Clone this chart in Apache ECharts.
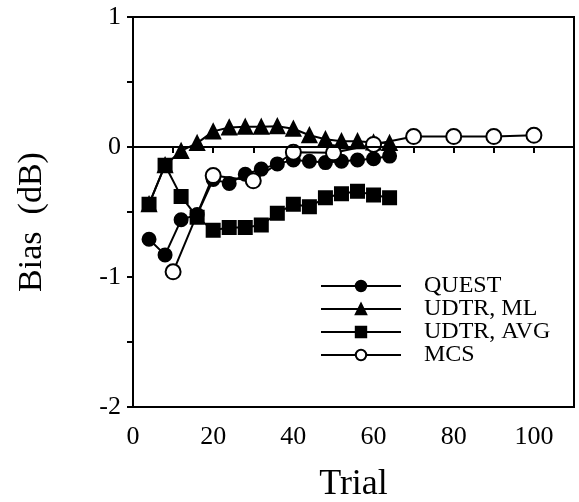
<!DOCTYPE html>
<html>
<head>
<meta charset="utf-8">
<script src="https://cdn.jsdelivr.net/npm/echarts@6/dist/echarts.min.js"></script>
<style>
  html, body { margin: 0; padding: 0; background: #fff; }
  #chart { width: 579px; height: 502px; }
</style>
</head>
<body>
<div id="chart"></div>
<script>
// trials and bias values (dB)
const udtrTrials = [4, 8, 12, 16, 20, 24, 28, 32, 36, 40, 44, 48, 52, 56, 60, 64]
const questBias = [-0.71, -0.83, -0.56, -0.52, -0.25, -0.28, -0.21, -0.17, -0.13, -0.10, -0.11, -0.12, -0.11, -0.10, -0.09, -0.07]
const udtrMlBias = [-0.44, -0.14, -0.03, 0.03, 0.12, 0.15, 0.155, 0.155, 0.16, 0.14, 0.09, 0.06, 0.045, 0.045, 0.035, 0.03]
const udtrAvgBias = [-0.44, -0.14, -0.38, -0.54, -0.64, -0.62, -0.62, -0.60, -0.51, -0.44, -0.46, -0.39, -0.36, -0.34, -0.37, -0.39]
const mcsTrials = [10, 20, 30, 40, 50, 60, 70, 80, 90, 100]
const mcsBias = [-0.96, -0.22, -0.26, -0.04, -0.045, 0.02, 0.08, 0.08, 0.08, 0.09]

const pairs = (xs, ys) => xs.map((x, i) => [x, ys[i]])
const serif = 'Liberation Serif'

const chart = echarts.init(document.getElementById('chart'))

const lineSeries = (name, xs, ys, symbol, size, fill) => ({
  name: name,
  type: 'line',
  data: pairs(xs, ys),
  symbol: symbol,
  symbolSize: size,
  showSymbol: true,
  lineStyle: { color: '#000', width: 2 },
  itemStyle: { color: fill, borderColor: '#000', borderWidth: 2 }
})

chart.setOption({
  animation: false,
  grid: {
    left: 133, right: 5, top: 17, bottom: 95,
    outerBoundsMode: 'none',
    show: true, borderColor: '#000', borderWidth: 2
  },
  legend: {
    orient: 'vertical',
    left: 315,
    top: 269,
    itemWidth: 80,
    itemHeight: 13,
    itemGap: -1,
    data: ['QUEST', 'UDTR, ML', 'UDTR, AVG', 'MCS'],
    textStyle: { fontFamily: serif, fontSize: 24, color: '#000', padding: [0, 0, 0, 18] }
  },
  xAxis: {
    type: 'value',
    min: 0,
    max: 110,
    interval: 10,
    name: 'Trial',
    nameLocation: 'middle',
    nameGap: 60,
    nameTextStyle: { fontFamily: serif, fontSize: 36, color: '#000' },
    axisLine: { lineStyle: { color: '#000', width: 2 } },
    axisTick: { length: 6, lineStyle: { color: '#000', width: 2 } },
    axisLabel: {
      fontFamily: serif, fontSize: 26, color: '#000', margin: 17,
      formatter: v => (v % 20 === 0 ? String(v) : '')
    },
    splitLine: { show: false }
  },
  yAxis: {
    type: 'value',
    min: -2,
    max: 1,
    interval: 1,
    name: 'Bias  (dB)',
    nameLocation: 'middle',
    nameGap: 84,
    nameTextStyle: { fontFamily: serif, fontSize: 34, color: '#000', padding: [0, 20, 0, 0] },
    axisLine: { lineStyle: { color: '#000', width: 2 } },
    axisTick: { length: 6, lineStyle: { color: '#000', width: 2 } },
    minorTick: { show: true, splitNumber: 2, length: 6, lineStyle: { color: '#000', width: 2 } },
    axisLabel: { fontFamily: serif, fontSize: 26, color: '#000', margin: 12 },
    splitLine: { show: false }
  },
  series: [
    Object.assign(lineSeries('UDTR, ML', udtrTrials, udtrMlBias, 'triangle', 14, '#000'), {
      markLine: {
        silent: true,
        symbol: 'none',
        label: { show: false },
        lineStyle: { color: '#000', width: 2, type: 'solid' },
        data: [{ yAxis: 0 }]
      }
    }),
    lineSeries('QUEST', udtrTrials, questBias, 'circle', 13, '#000'),
    lineSeries('UDTR, AVG', udtrTrials, udtrAvgBias, 'rect', 13, '#000'),
    lineSeries('MCS', mcsTrials, mcsBias, 'circle', 15, '#fff')
  ]
})
</script>
</body>
</html>
